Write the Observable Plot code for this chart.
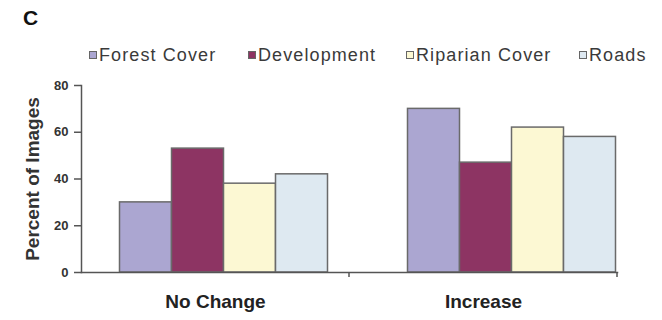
<!DOCTYPE html>
<html>
<head>
<meta charset="utf-8">
<script src="https://cdn.jsdelivr.net/npm/d3@7"></script>
<script src="https://cdn.jsdelivr.net/npm/@observablehq/plot@0.6"></script>
<style>
  body { margin: 0; background: #fff; font-family: "Liberation Sans", Arial, sans-serif; }
  #wrap { width: 662px; height: 320px; position: relative; overflow: hidden; }
  #head { position: relative; width: 662px; height: 70px; }
  #panel { position: absolute; left: 23px; top: 7px; font-size: 21px; line-height: 21px; font-weight: bold; color: #111; }
  .item { position: absolute; top: 46px; font-size: 18px; line-height: 18px; letter-spacing: 1.1px; color: #3a3a3a; white-space: nowrap; }
  .sw { display: inline-block; width: 6px; height: 6px; border: 1px solid #666; margin-right: 2px; vertical-align: 2px; }
  svg { display: block; }
</style>
</head>
<body>
<div id="wrap">
  <div id="head"><div id="panel">C</div></div>
  <div id="chart"></div>
</div>
<script>
const panelLabel = "C";
const groups = ["No Change", "Increase"];
const series = ["Forest Cover", "Development", "Riparian Cover", "Roads"];
const noChangeValues = [30, 53, 38, 42];
const increaseValues = [70, 47, 62, 58];
const seriesColors = ["#aba6d1", "#8d3463", "#fcf8d3", "#dee9f1"];
const yTicks = [0, 20, 40, 60, 80];
const yLabel = "Percent of Images";
const legendLefts = [89, 248, 406, 579];

document.getElementById("panel").textContent = panelLabel;
const head = document.getElementById("head");
series.forEach((s, i) => {
  const d = document.createElement("div");
  d.className = "item";
  d.style.left = legendLefts[i] + "px";
  const sw = document.createElement("span");
  sw.className = "sw";
  sw.style.background = seriesColors[i];
  d.appendChild(sw);
  d.appendChild(document.createTextNode(s));
  head.appendChild(d);
});

const data = [];
series.forEach((s, i) => {
  data.push({group: groups[0], series: s, value: noChangeValues[i]});
  data.push({group: groups[1], series: s, value: increaseValues[i]});
});

const barStyle = {fx: "group", x: "series", y: "value", fill: "series", stroke: "#6a6a6a", strokeWidth: 1.5};

const plot = Plot.plot({
  width: 662,
  height: 250,
  marginTop: 15,
  marginBottom: 48,
  marginLeft: 80,
  marginRight: 45,
  style: {fontFamily: "Liberation Sans, Arial, sans-serif", color: "#333", background: "#fff"},
  fx: {domain: groups, padding: 0, label: null},
  x: {domain: series, paddingInner: 0, paddingOuter: 0.545, axis: null},
  y: {domain: [0, 80]},
  color: {domain: series, range: seriesColors},
  marks: [
    Plot.barY(data.filter(d => d.group === groups[0]), {...barStyle, dx: 8.5}),
    Plot.barY(data.filter(d => d.group === groups[1]), {...barStyle, dx: 28.5}),
    Plot.frame({anchor: "left", facet: "super", stroke: "#555", strokeWidth: 1.5}),
    Plot.frame({anchor: "bottom", facet: "super", stroke: "#555", strokeWidth: 1.5}),
    Plot.axisY({ticks: yTicks, tickSize: 7, tickPadding: 6, fontSize: 13, fontWeight: "bold", stroke: "#555", strokeWidth: 1.5, label: null, fill: "#333"}),
    Plot.text([yLabel], {frameAnchor: "left", textAnchor: "middle", rotate: -90, dx: -49, facet: "super", fontSize: 19, fontWeight: "bold", fill: "#333"}),
    Plot.axisFx({anchor: "bottom", tickSize: 0, tickPadding: 22, fontSize: 19, fontWeight: "bold", label: null, fill: "#222"})
  ]
});

// small downward ticks at the facet boundaries, positioned by the fx scale
const fx = plot.scale("fx");
const svg = d3.select(plot.tagName.toLowerCase() === "svg" ? plot : plot.querySelector("svg"));
const yBottom = 250 - 48;
const bounds = [fx.apply(groups[1]), fx.apply(groups[1]) + fx.bandwidth];
svg.append("g").selectAll("line").data(bounds).join("line")
  .attr("x1", d => d).attr("x2", d => d)
  .attr("y1", yBottom).attr("y2", yBottom + 5)
  .attr("stroke", "#555").attr("stroke-width", 1.5);

document.getElementById("chart").appendChild(plot);
</script>
</body>
</html>
